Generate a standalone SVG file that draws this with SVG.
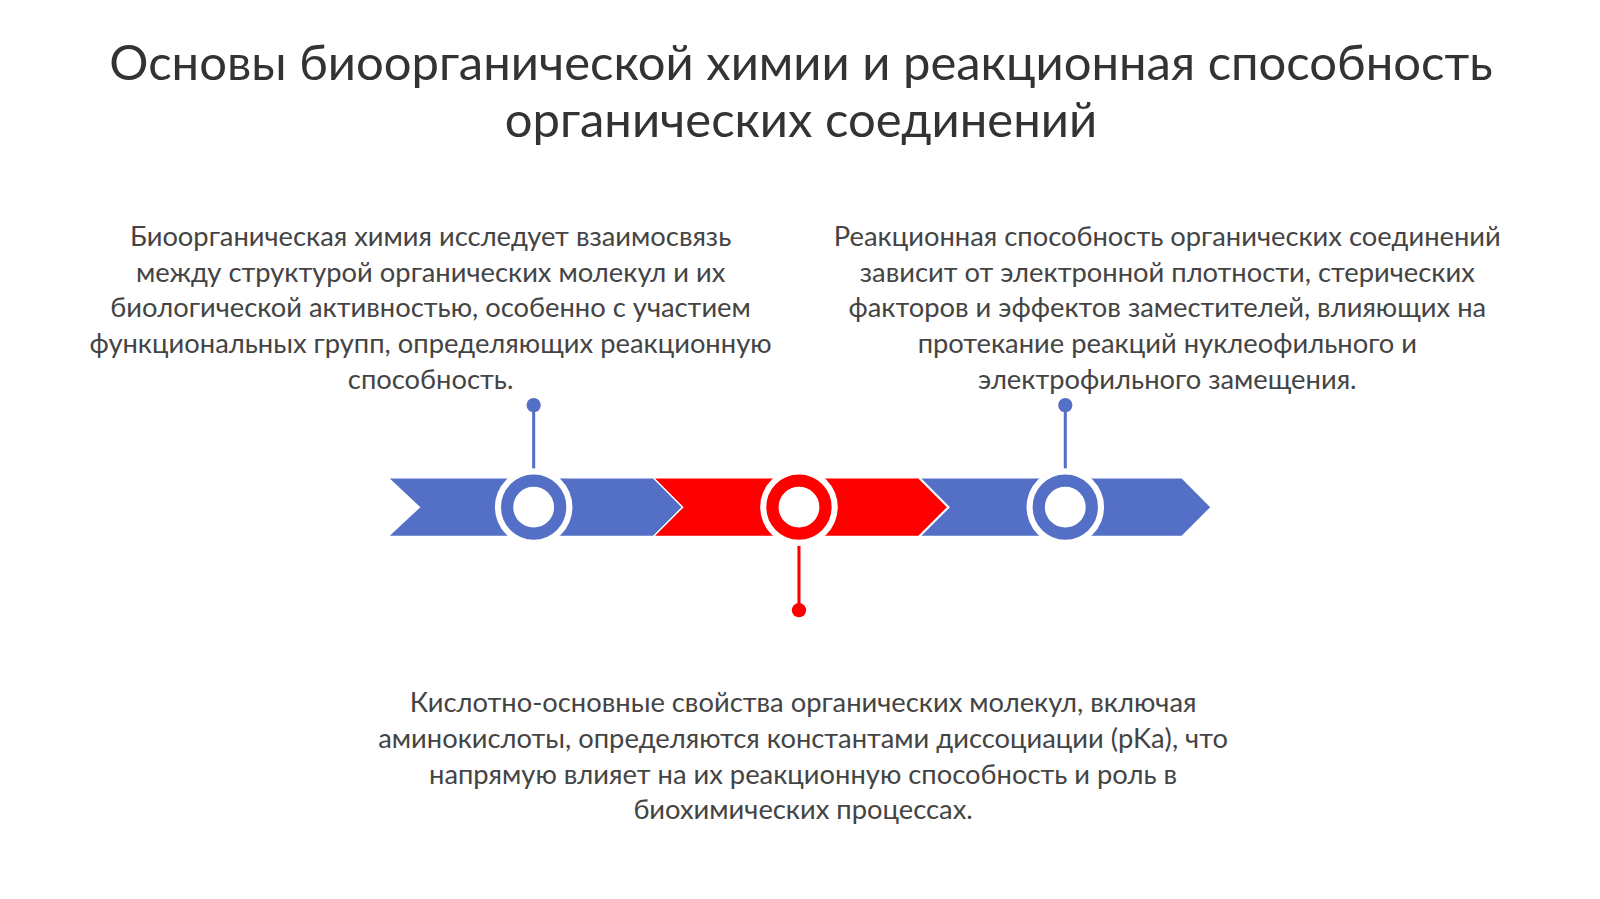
<svg xmlns="http://www.w3.org/2000/svg" width="1600" height="899" viewBox="0 0 1600 899">
<style>
.t{font-family:Lato,"Liberation Sans",sans-serif;fill:#333;text-anchor:middle}
.h{font-size:48px}
.b{font-size:26.8px;fill:#444}
.bl{fill:#5470c6}.rd{fill:#f00}
</style>
<rect width="1600" height="899" fill="#fff"/>
<g transform="scale(1.0204)">
<g id="title"><text class="t h" x="785" y="78">Основы биоорганической химии и реакционная способность</text><text class="t h" x="785" y="134">органических соединений</text></g>
<g id="bar">
<polygon class="bl" points="382,469 640,469 668,497 640,525 382,525 412,497"/>
<polygon class="rd" points="642,469 900,469 928,497 900,525 642,525 670,497"/>
<polygon class="bl" points="903,469 1158,469 1186,497 1158,525 903,525 931,497"/>
</g>
<g id="connectors" stroke-width="3">
<line x1="523" y1="397" x2="523" y2="465" stroke="#5470c6"/><circle cx="523" cy="397" r="7" class="bl"/>
<line x1="1044" y1="397" x2="1044" y2="465" stroke="#5470c6"/><circle cx="1044" cy="397" r="7" class="bl"/>
<line x1="783" y1="530" x2="783" y2="598" stroke="#f00"/><circle cx="783" cy="598" r="7" class="rd"/>
</g>
<g id="node1"><circle cx="523" cy="497" r="38" fill="#fff"/><circle cx="523" cy="497" r="26" fill="#fff" stroke="#5470c6" stroke-width="12"/>
<text class="t b" x="422" y="241">Биоорганическая химия исследует взаимосвязь</text><text class="t b" x="422" y="276">между структурой органических молекул и их</text><text class="t b" x="422" y="311">биологической активностью, особенно с участием</text><text class="t b" x="422" y="346">функциональных групп, определяющих реакционную</text><text class="t b" x="422" y="381">способность.</text></g>
<g id="node2"><circle cx="783" cy="497" r="38" fill="#fff"/><circle cx="783" cy="497" r="26" fill="#fff" stroke="#f00" stroke-width="12"/>
<text class="t b" x="787" y="698">Кислотно-основные свойства органических молекул, включая</text><text class="t b" x="787" y="733">аминокислоты, определяются константами диссоциации (pKa), что</text><text class="t b" x="787" y="768">напрямую влияет на их реакционную способность и роль в</text><text class="t b" x="787" y="803">биохимических процессах.</text></g>
<g id="node3"><circle cx="1044" cy="497" r="38" fill="#fff"/><circle cx="1044" cy="497" r="26" fill="#fff" stroke="#5470c6" stroke-width="12"/>
<text class="t b" x="1144" y="241">Реакционная способность органических соединений</text><text class="t b" x="1144" y="276">зависит от электронной плотности, стерических</text><text class="t b" x="1144" y="311">факторов и эффектов заместителей, влияющих на</text><text class="t b" x="1144" y="346">протекание реакций нуклеофильного и</text><text class="t b" x="1144" y="381">электрофильного замещения.</text></g>
</g>
</svg>
